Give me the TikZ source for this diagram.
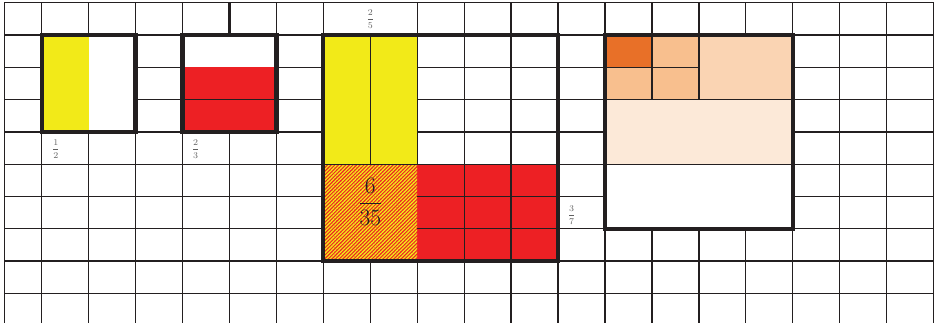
\RequirePackage{fix-cm}
\documentclass[tikz,border=0pt]{standalone}
\usepackage{amsmath}
\usepackage{tikz}
\usetikzlibrary{patterns.meta}
\definecolor{gridcolor}{RGB}{35, 31, 32}
\definecolor{framecolor}{RGB}{35, 31, 32}
\definecolor{yellowpart}{RGB}{242, 234, 24}
\definecolor{redpart}{RGB}{237, 32, 36}
\definecolor{orangedark}{RGB}{232, 112, 40}
\definecolor{orangemid}{RGB}{248, 191, 142}
\definecolor{orangelight}{RGB}{250, 212, 179}
\definecolor{orangepale}{RGB}{252, 233, 216}
\definecolor{fractext}{RGB}{95, 95, 95}

\begin{document}
\begin{tikzpicture}[
    x=1.4082cm, y=0.969cm,
    % Estilos
    gridline/.style={draw=gridcolor, line width=1.1pt},
    frame/.style={draw=framecolor, line width=3.6pt},
    smallfrac/.style={font=\fontsize{7.5}{8}\selectfont, text=fractext, inner sep=0pt},
    bigfrac/.style={font=\fontsize{20}{22}\selectfont, text=framecolor, inner sep=0pt},
    overlap/.style={
        fill=redpart,
        postaction={pattern={Lines[angle=45, distance=2.2pt, line width=1.1pt]},
                    pattern color=yellowpart}
    }
]
\useasboundingbox (-0.888, 0.0836) rectangle (19.009, -9.916);

% ============================================================================
% MALHA
% ============================================================================
\foreach \i in {0,...,6,8,9,...,19}
    \draw[gridline] (\i, 0) -- (\i, -9.916);
\draw[gridline] (7, -1) -- (7, -9.916);
\draw[gridline] (-0.797, 0) -- (-0.797, -9.916);
\foreach \j in {0,...,9}
    \draw[gridline] (-0.797, -\j) -- (19.009, -\j);
\draw[gridcolor, line width=1.8pt] (4, 0) -- (4, -1);

% ============================================================================
% 1/2
% ============================================================================
\fill[white] (0, -1) rectangle (2, -4);
\fill[yellowpart] (0, -1) rectangle (1, -4);
\draw[frame] (0, -1) rectangle (2, -4);
\node[smallfrac] (halflabel) at (0.30, -4.53) {$\dfrac{1}{2}$};

% ============================================================================
% 2/3
% ============================================================================
\fill[white] (3, -1) rectangle (5, -4);
\fill[redpart] (3, -2) rectangle (5, -4);
\draw[gridline] (3, -3) -- (5, -3);
\draw[frame] (3, -1) rectangle (5, -4);
\node[smallfrac] (thirdslabel) at (3.28, -4.53) {$\dfrac{2}{3}$};

% ============================================================================
% 2/5 x 3/7
% ============================================================================
\fill[yellowpart] (6, -1) rectangle (8, -5);
\fill[redpart] (8, -5) rectangle (11, -8);
\path[overlap] (6, -5) rectangle (8, -8);
\draw[gridline] (7, -1) -- (7, -5);
\draw[gridline] (6, -5) -- (11, -5);
\foreach \j in {6,7}
    \draw[gridline] (8, -\j) -- (11, -\j);
\foreach \i in {9,10}
    \draw[gridline] (\i, -5) -- (\i, -8);
\draw[frame] (6, -1) rectangle (11, -8);
\node[smallfrac] (fifthslabel) at (7.0, -0.5) {$\dfrac{2}{5}$};
\node[smallfrac] (seventhslabel) at (11.29, -6.57) {$\dfrac{3}{7}$};
\node[bigfrac] (productlabel) at (7.0, -6.16) {$\dfrac{6}{35}$};

% ============================================================================
% QUADRO LARANJA
% ============================================================================
\fill[white] (12, -1) rectangle (16, -7);
\fill[orangedark] (12, -1) rectangle (13, -2);
\fill[orangemid] (13, -1) rectangle (14, -2);
\fill[orangemid] (12, -2) rectangle (14, -3);
\fill[orangelight] (14, -1) rectangle (16, -3);
\fill[orangepale] (12, -3) rectangle (16, -5);
\draw[gridline] (13, -1) -- (13, -3);
\draw[gridline] (14, -1) -- (14, -3);
\draw[gridline] (12, -2) -- (14, -2);
\draw[gridline] (12, -3) -- (16, -3);
\draw[gridline] (12, -5) -- (16, -5);
\draw[frame] (12, -1) rectangle (16, -7);

\end{tikzpicture}
\end{document}
